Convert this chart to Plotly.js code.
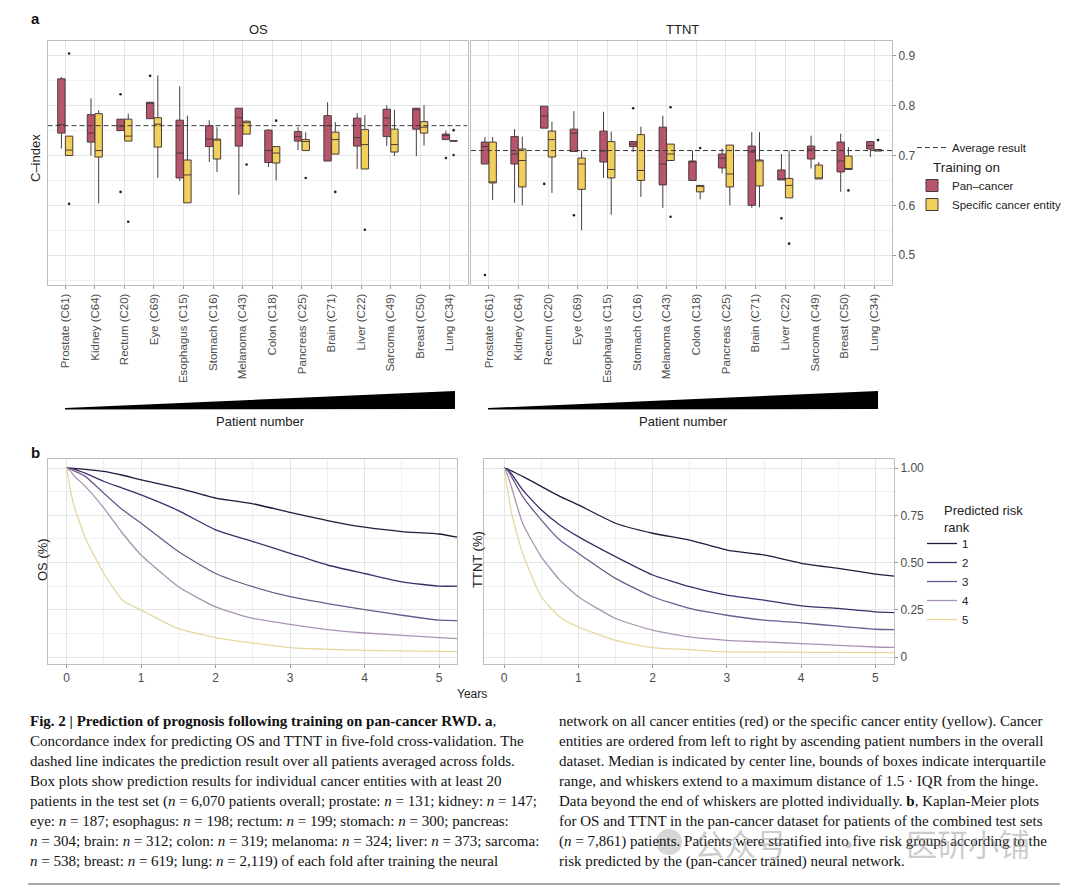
<!DOCTYPE html>
<html><head><meta charset="utf-8">
<script src="https://cdn.plot.ly/plotly-3.0.1.min.js"></script>
<style>html,body{margin:0;padding:0;background:#fff}#chart{width:1080px;height:888px}</style>
</head><body><div id="chart"></div>
<script>
// ---------- DATA ----------
const categories = ['Prostate (C61)','Kidney (C64)','Rectum (C20)','Eye (C69)','Esophagus (C15)','Stomach (C16)','Melanoma (C43)','Colon (C18)','Pancreas (C25)','Brain (C71)','Liver (C22)','Sarcoma (C49)','Breast (C50)','Lung (C34)'];
const groupNames = ['Pan–cancer','Specific cancer entity'];

// OS, pan-cancer training
const osPanLo  = [0.714,0.700,0.750,0.774,0.649,0.687,0.621,0.677,0.711,0.689,0.673,0.719,0.699,0.732];
const osPanQ1  = [0.745,0.727,0.750,0.774,0.655,0.718,0.719,0.686,0.729,0.689,0.719,0.738,0.753,0.732];
const osPanMed = [0.762,0.745,0.759,0.806,0.705,0.733,0.776,0.710,0.738,0.760,0.736,0.775,0.792,0.740];
const osPanQ3  = [0.854,0.782,0.773,0.807,0.771,0.760,0.795,0.751,0.748,0.780,0.775,0.793,0.795,0.743];
const osPanHi  = [0.858,0.815,0.773,0.807,0.839,0.771,0.795,0.753,0.757,0.807,0.785,0.801,0.795,0.750];
// OS, specific-entity training
const osSpecLo  = [0.700,0.604,0.729,0.655,0.605,0.667,0.743,0.650,0.710,0.703,0.673,0.699,0.720,0.729];
const osSpecQ1  = [0.700,0.697,0.729,0.717,0.605,0.693,0.743,0.685,0.710,0.703,0.673,0.707,0.745,0.729];
const osSpecMed = [0.711,0.710,0.739,0.763,0.661,0.732,0.766,0.705,0.728,0.732,0.722,0.722,0.757,0.729];
const osSpecQ3  = [0.739,0.784,0.773,0.776,0.691,0.733,0.769,0.718,0.732,0.747,0.752,0.753,0.768,0.730];
const osSpecHi  = [0.739,0.791,0.784,0.861,0.780,0.757,0.770,0.718,0.747,0.767,0.781,0.792,0.801,0.730];
// TTNT, pan-cancer training
const ttPanLo  = [0.683,0.605,0.755,0.708,0.655,0.707,0.595,0.650,0.664,0.595,0.651,0.674,0.627,0.697];
const ttPanQ1  = [0.683,0.683,0.755,0.708,0.687,0.718,0.641,0.650,0.675,0.600,0.651,0.693,0.667,0.713];
const ttPanMed = [0.718,0.703,0.779,0.745,0.709,0.723,0.683,0.689,0.695,0.707,0.651,0.713,0.689,0.720];
const ttPanQ3  = [0.727,0.738,0.799,0.753,0.749,0.728,0.757,0.689,0.703,0.719,0.671,0.719,0.727,0.728];
const ttPanHi  = [0.737,0.753,0.799,0.789,0.788,0.728,0.780,0.710,0.714,0.747,0.703,0.740,0.744,0.728];
// TTNT, specific-entity training
const ttSpecLo  = [0.611,0.600,0.625,0.550,0.581,0.617,0.690,0.612,0.600,0.596,0.615,0.653,0.672,0.709];
const ttSpecQ1  = [0.645,0.637,0.697,0.632,0.655,0.650,0.690,0.627,0.637,0.639,0.615,0.653,0.672,0.709];
const ttSpecMed = [0.645,0.690,0.732,0.683,0.672,0.670,0.703,0.639,0.663,0.690,0.640,0.655,0.673,0.711];
const ttSpecQ3  = [0.727,0.713,0.749,0.695,0.728,0.742,0.723,0.640,0.721,0.691,0.654,0.681,0.699,0.712];
const ttSpecHi  = [0.737,0.738,0.768,0.710,0.748,0.758,0.723,0.640,0.721,0.747,0.710,0.687,0.717,0.712];

// outliers (category, value)
const osPanOutCat  = ['Rectum (C20)','Rectum (C20)','Eye (C69)','Lung (C34)'];
const osPanOutVal  = [0.823,0.627,0.860,0.695];
const osSpecOutCat = ['Prostate (C61)','Prostate (C61)','Rectum (C20)','Melanoma (C43)','Colon (C18)','Pancreas (C25)','Brain (C71)','Liver (C22)','Lung (C34)','Lung (C34)'];
const osSpecOutVal = [0.905,0.603,0.567,0.682,0.770,0.655,0.627,0.551,0.751,0.701];
const ttPanOutCat  = ['Prostate (C61)','Rectum (C20)','Eye (C69)','Stomach (C16)','Liver (C22)'];
const ttPanOutVal  = [0.460,0.643,0.580,0.795,0.574];
const ttSpecOutCat = ['Melanoma (C43)','Melanoma (C43)','Colon (C18)','Liver (C22)','Breast (C50)','Lung (C34)'];
const ttSpecOutVal = [0.797,0.577,0.715,0.523,0.630,0.731];

const averageOS = 0.760;
const averageTTNT = 0.710;

// Kaplan-Meier curves
const kmYears = [0,0.05,0.1,0.25,0.5,0.75,1,1.5,2,2.5,3,3.5,4,4.5,5,5.25];
const riskRanks = ['1','2','3','4','5'];
const osRank1 = [1,0.999,0.998,0.993,0.982,0.962,0.938,0.894,0.841,0.811,0.765,0.722,0.687,0.664,0.651,0.634];
const osRank2 = [1,0.998,0.995,0.973,0.929,0.894,0.858,0.775,0.673,0.611,0.549,0.487,0.442,0.398,0.375,0.375];
const osRank3 = [1,0.995,0.985,0.956,0.867,0.779,0.708,0.558,0.442,0.372,0.319,0.283,0.251,0.221,0.195,0.193];
const osRank4 = [1,0.985,0.959,0.903,0.788,0.655,0.540,0.372,0.265,0.204,0.173,0.145,0.127,0.115,0.103,0.097];
const osRank5 = [1,0.885,0.800,0.630,0.442,0.301,0.248,0.150,0.103,0.074,0.050,0.041,0.035,0.032,0.030,0.030];
const ttRank1 = [1,0.995,0.985,0.956,0.903,0.850,0.805,0.708,0.655,0.619,0.566,0.540,0.496,0.469,0.439,0.428];
const ttRank2 = [1,0.990,0.970,0.885,0.779,0.699,0.637,0.531,0.434,0.372,0.327,0.301,0.271,0.257,0.239,0.235];
const ttRank3 = [1,0.985,0.955,0.850,0.726,0.619,0.549,0.416,0.319,0.257,0.221,0.195,0.181,0.163,0.147,0.145];
const ttRank4 = [1,0.960,0.900,0.708,0.531,0.407,0.319,0.204,0.142,0.106,0.088,0.080,0.071,0.062,0.053,0.051];
const ttRank5 = [1,0.880,0.761,0.549,0.319,0.212,0.159,0.088,0.050,0.039,0.027,0.026,0.025,0.024,0.023,0.023];

const boxTicks = [0.5,0.6,0.7,0.8,0.9];
const kmTicks = [0,0.25,0.5,0.75,1];
const kmTickText = ['0','0.25','0.50','0.75','1.00'];
const yearTicks = [0,1,2,3,4,5];

// ---------- STYLE ----------
const FONT = 'Liberation Sans, Arial, sans-serif';
const SERIF = 'Liberation Serif, Times New Roman, serif';
const panFill = '#b7556d', specFill = '#f1cf5b', boxLine = '#4a3b3b';
const rankColors = ['#211b3b','#3e2e69','#6e5a8e','#a893b3','#e6d89c'];
const PX = x => x / 1080, PY = y => 1 - y / 888;
const OFF = 0.13;
const idx = c => categories.indexOf(c);

const traces = [];
function addBoxes(lo, q1, med, q3, hi, off, fill, name, xa, ya, show) {
  traces.push({
    type: 'box', name: name, x: categories.map((c, i) => i + off),
    lowerfence: lo, q1: q1, median: med, q3: q3, upperfence: hi,
    width: 0.25, whiskerwidth: 0, boxpoints: false, fillcolor: fill,
    line: {color: boxLine, width: 1}, xaxis: xa, yaxis: ya,
    legend: 'legend2', legendgroup: name, showlegend: show, hoverinfo: 'skip'
  });
}
function addOutliers(cats, vals, off, xa, ya) {
  traces.push({
    type: 'scatter', mode: 'markers', x: cats.map(c => idx(c) + off), y: vals,
    marker: {size: 2.6, color: '#222'}, xaxis: xa, yaxis: ya, showlegend: false, hoverinfo: 'skip'
  });
}
function addAverage(v, xa, ya, show) {
  traces.push({
    type: 'scatter', mode: 'lines', name: 'Average result', x: [-0.6, 13.6], y: [v, v],
    line: {color: '#3a3a3a', width: 1, dash: '5px,3px'}, xaxis: xa, yaxis: ya,
    legend: 'legend', showlegend: show, hoverinfo: 'skip'
  });
}
addBoxes(osPanLo, osPanQ1, osPanMed, osPanQ3, osPanHi, -OFF, panFill, groupNames[0], 'x', 'y', true);
addBoxes(osSpecLo, osSpecQ1, osSpecMed, osSpecQ3, osSpecHi, OFF, specFill, groupNames[1], 'x', 'y', true);
addBoxes(ttPanLo, ttPanQ1, ttPanMed, ttPanQ3, ttPanHi, -OFF, panFill, groupNames[0], 'x2', 'y2', false);
addBoxes(ttSpecLo, ttSpecQ1, ttSpecMed, ttSpecQ3, ttSpecHi, OFF, specFill, groupNames[1], 'x2', 'y2', false);
addOutliers(osPanOutCat, osPanOutVal, -OFF, 'x', 'y');
addOutliers(osSpecOutCat, osSpecOutVal, OFF, 'x', 'y');
addOutliers(ttPanOutCat, ttPanOutVal, -OFF, 'x2', 'y2');
addOutliers(ttSpecOutCat, ttSpecOutVal, OFF, 'x2', 'y2');
addAverage(averageOS, 'x', 'y', true);
addAverage(averageTTNT, 'x2', 'y2', false);

const osCurves = [osRank1, osRank2, osRank3, osRank4, osRank5];
const ttCurves = [ttRank1, ttRank2, ttRank3, ttRank4, ttRank5];
function addKM(curves, xa, ya, show) {
  curves.forEach((vals, k) => traces.push({
    type: 'scatter', mode: 'lines', name: riskRanks[k], x: kmYears, y: vals,
    line: {color: rankColors[k], width: 1.3, shape: 'spline', smoothing: 0.5},
    xaxis: xa, yaxis: ya, legend: 'legend3', showlegend: show, hoverinfo: 'skip'
  }));
}
addKM(osCurves, 'x3', 'y3', true);
addKM(ttCurves, 'x4', 'y4', false);

// ---------- AXES ----------
const gridC = '#e4e4e4', minorC = '#f0f0f0', borderC = '#bdbdbd';
const common = {showline: true, mirror: true, linecolor: borderC, linewidth: 1, zeroline: false,
  gridcolor: gridC, gridwidth: 1, tickfont: {family: FONT, size: 11.5, color: '#4d4d4d'}, fixedrange: true};
function catX(dom, anchor) {
  return Object.assign({}, common, {domain: dom, anchor: anchor, range: [-0.6, 13.6],
    tickmode: 'array', tickvals: categories.map((c, i) => i), ticktext: categories,
    tickangle: -90, ticks: 'outside', ticklen: 3, tickcolor: '#999'});
}
function boxY(dom, anchor, labels) {
  return Object.assign({}, common, {domain: dom, anchor: anchor, range: [0.44, 0.93],
    tickmode: 'array', tickvals: boxTicks, ticktext: boxTicks.map(v => v.toFixed(1)),
    showticklabels: labels, side: 'right', ticks: labels ? 'outside' : '', ticklen: 3, tickcolor: '#999',
    tickfont: {family: FONT, size: 12, color: '#4d4d4d'},
    minor: {tickmode: 'linear', tick0: 0, dtick: 0.05, showgrid: true, gridcolor: minorC, ticks: ''}});
}
function kmX(dom, anchor, range) {
  return Object.assign({}, common, {domain: dom, anchor: anchor, range: range,
    tickmode: 'array', tickvals: yearTicks, ticks: 'outside', ticklen: 3, tickcolor: '#999',
    tickfont: {family: FONT, size: 12, color: '#4d4d4d'},
    minor: {tickmode: 'linear', tick0: 0, dtick: 0.5, showgrid: true, gridcolor: minorC, ticks: ''}});
}
function kmY(dom, anchor, labels) {
  return Object.assign({}, common, {domain: dom, anchor: anchor, range: [-0.037, 1.048],
    tickmode: 'array', tickvals: kmTicks, ticktext: kmTickText, side: 'right',
    showticklabels: labels, ticks: labels ? 'outside' : '', ticklen: 3, tickcolor: '#999',
    tickfont: {family: FONT, size: 12, color: '#4d4d4d'},
    minor: {tickmode: 'linear', tick0: 0, dtick: 0.125, showgrid: true, gridcolor: minorC, ticks: ''}});
}
const boxDomY = [PY(285), PY(41)];
const kmDomY = [PY(664), PY(459)];

// ---------- TEXT ----------
const ann = [];
function txt(text, x, y, o) {
  ann.push(Object.assign({text: text, x: PX(x), y: PY(y), xref: 'paper', yref: 'paper', showarrow: false,
    xanchor: 'center', yanchor: 'middle', font: {family: FONT, size: 13, color: '#222'}}, o || {}));
}
txt('<b>a</b>', 35, 19, {font: {family: FONT, size: 15, color: '#111'}});
txt('<b>b</b>', 35, 452, {font: {family: FONT, size: 15, color: '#111'}});
txt('OS', 258, 30, {font: {family: FONT, size: 13, color: '#222'}});
txt('TTNT', 682, 30, {font: {family: FONT, size: 13, color: '#222'}});
txt('C–index', 36, 158, {textangle: -90});
txt('Patient number', 260, 421);
txt('Patient number', 683, 421);
txt('Years', 472, 694, {font: {family: FONT, size: 12, color: '#222'}});
txt('OS (%)', 42, 560, {textangle: -90});
txt('TTNT (%)', 477, 560, {textangle: -90});
txt('Training on', 931, 167, {xanchor: 'left', font: {family: FONT, size: 13.5, color: '#222'}});
txt('Predicted risk<br>rank', 942, 519, {xanchor: 'left', align: 'left', font: {family: FONT, size: 13, color: '#222'}});

const captionLeft = [
  '<b>Fig. 2 | Prediction of prognosis following training on pan-cancer RWD. a</b>,',
  'Concordance index for predicting OS and TTNT in five-fold cross-validation. The',
  'dashed line indicates the prediction result over all patients averaged across folds.',
  'Box plots show prediction results for individual cancer entities with at least 20',
  'patients in the test set (<i>n</i> = 6,070 patients overall; prostate: <i>n</i> = 131; kidney: <i>n</i> = 147;',
  'eye: <i>n</i> = 187; esophagus: <i>n</i> = 198; rectum: <i>n</i> = 199; stomach: <i>n</i> = 300; pancreas:',
  '<i>n</i> = 304; brain: <i>n</i> = 312; colon: <i>n</i> = 319; melanoma: <i>n</i> = 324; liver: <i>n</i> = 373; sarcoma:',
  '<i>n</i> = 538; breast: <i>n</i> = 619; lung: <i>n</i> = 2,119) of each fold after training the neural'
];
const captionRight = [
  'network on all cancer entities (red) or the specific cancer entity (yellow). Cancer',
  'entities are ordered from left to right by ascending patient numbers in the overall',
  'dataset. Median is indicated by center line, bounds of boxes indicate interquartile',
  'range, and whiskers extend to a maximum distance of 1.5 · IQR from the hinge.',
  'Data beyond the end of whiskers are plotted individually. <b>b</b>, Kaplan-Meier plots',
  'for OS and TTNT in the pan-cancer dataset for patients of the combined test sets',
  '(<i>n</i> = 7,861) patients. Patients were stratified into five risk groups according to the',
  'risk predicted by the (pan-cancer trained) neural network.'
];
captionLeft.forEach((t, k) => txt(t, 28, 721 + 20 * k, {xanchor: 'left', font: {family: SERIF, size: 15, color: '#111'}}));
captionRight.forEach((t, k) => txt(t, 557, 721 + 20 * k, {xanchor: 'left', font: {family: SERIF, size: 15, color: '#111'}}));
txt('公众号', 740, 842, {font: {family: 'Noto Sans CJK SC', size: 31, color: 'rgba(140,140,140,0.45)'}});
txt('·', 848, 842, {font: {family: 'Noto Sans CJK SC', size: 31, color: 'rgba(140,140,140,0.45)'}});
txt('医研小铺', 968, 842, {font: {family: 'Noto Sans CJK SC', size: 31, color: 'rgba(140,140,140,0.45)'}});

// ---------- SHAPES (decorations) ----------
function path(pts) { return 'M ' + pts.map(p => PX(p[0]) + ',' + PY(p[1])).join(' L ') + ' Z'; }
const shapes = [
  {type: 'path', xref: 'paper', yref: 'paper', path: path([[65,408],[455,391],[455,409],[65,409.5]]), fillcolor: '#000', line: {width: 0}},
  {type: 'path', xref: 'paper', yref: 'paper', path: path([[488,408],[878,391],[878,409],[488,409.5]]), fillcolor: '#000', line: {width: 0}},
  {type: 'circle', xref: 'paper', yref: 'paper', x0: PX(656), x1: PX(682), y0: PY(855), y1: PY(829), fillcolor: 'rgba(140,140,140,0.35)', line: {width: 0}},
  {type: 'line', xref: 'paper', yref: 'paper', x0: PX(28), x1: PX(1060), y0: PY(884), y1: PY(884), line: {color: '#555', width: 1}}
];

const legFont = {family: FONT, size: 11.5, color: '#222'};
const layout = {
  width: 1080, height: 888, margin: {l: 0, r: 0, t: 0, b: 0},
  paper_bgcolor: '#fff', plot_bgcolor: '#fff', boxmode: 'overlay',
  xaxis: catX([PX(47.5), PX(467.5)], 'y'),
  yaxis: boxY(boxDomY, 'x', false),
  xaxis2: catX([PX(471), PX(892)], 'y2'),
  yaxis2: boxY(boxDomY, 'x2', true),
  xaxis3: kmX([PX(48), PX(457)], 'y3', [-0.25, 5.24]),
  yaxis3: kmY(kmDomY, 'x3', false),
  xaxis4: kmX([PX(484), PX(894)], 'y4', [-0.27, 5.25]),
  yaxis4: kmY(kmDomY, 'x4', true),
  legend:  {x: PX(912), y: PY(133), xanchor: 'left', yanchor: 'top', font: legFont, bgcolor: 'rgba(0,0,0,0)', itemwidth: 30},
  legend2: {x: PX(912), y: PY(171), xanchor: 'left', yanchor: 'top', font: legFont, bgcolor: 'rgba(0,0,0,0)', itemwidth: 30, tracegroupgap: 0},
  legend3: {x: PX(922), y: PY(529), xanchor: 'left', yanchor: 'top', font: legFont, bgcolor: 'rgba(0,0,0,0)', itemwidth: 30, tracegroupgap: 0},
  annotations: ann, shapes: shapes, showlegend: true
};
Plotly.newPlot('chart', traces, layout, {staticPlot: true, displayModeBar: false});
</script></body></html>
